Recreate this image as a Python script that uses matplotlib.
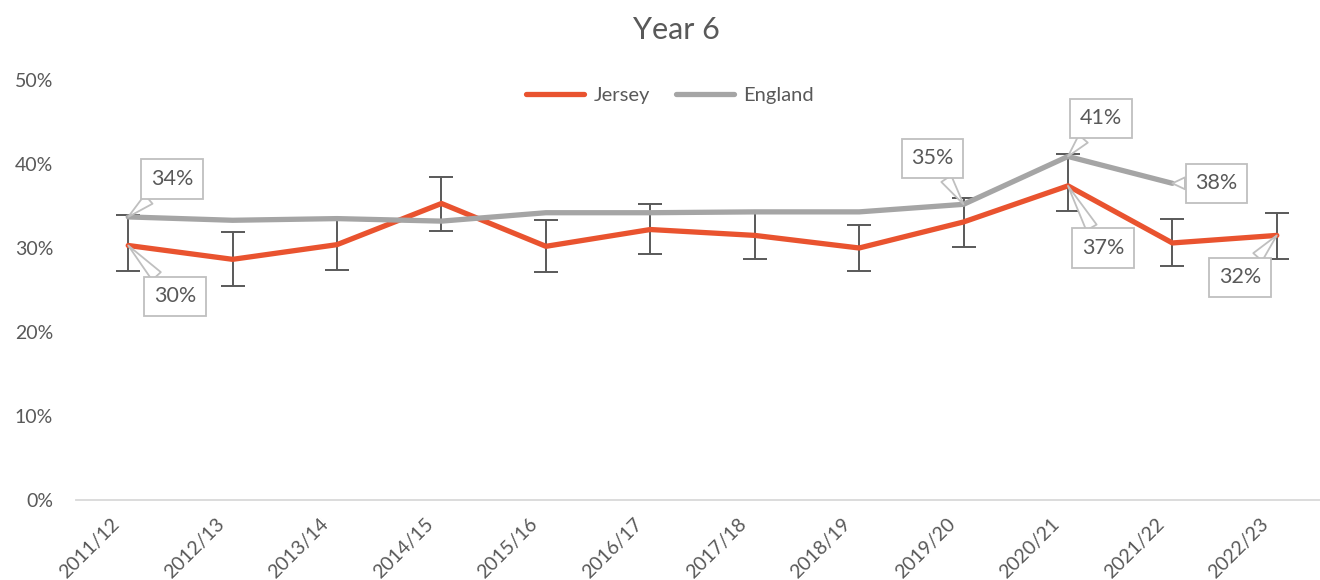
import numpy as np
import matplotlib
matplotlib.use("Agg")
import matplotlib.pyplot as plt
import matplotlib.transforms as mtransforms
from matplotlib.ticker import PercentFormatter

categories = ["2011/12", "2012/13", "2013/14", "2014/15", "2015/16", "2016/17",
              "2017/18", "2018/19", "2019/20", "2020/21", "2021/22", "2022/23"]
jersey = [30.3, 28.65, 30.4, 35.3, 30.2, 32.2, 31.5, 30.0, 33.1, 37.4, 30.6, 31.5]
jersey_low = [27.3, 25.5, 27.4, 32.0, 27.2, 29.3, 28.7, 27.3, 30.1, 34.4, 27.8, 28.65]
jersey_high = [33.9, 31.9, 33.6, 38.5, 33.3, 35.2, 34.2, 32.7, 36.0, 41.2, 33.4, 34.2]
england = [33.7, 33.3, 33.5, 33.2, 34.2, 34.2, 34.3, 34.3, 35.2, 40.9, 37.7, np.nan]

jersey_labelled = [0, 9, 11]
england_labelled = [0, 8, 9, 10]
# label offsets in pixels (layout only)
jersey_offsets = {0: (47, -51), 9: (35, -62), 11: (-37, -42)}
england_offsets = {0: (44, 38), 8: (-31, 46), 9: (33, 38), 10: (44, 0)}

plt.rcParams['font.family'] = ['Lato', 'DejaVu Sans']
TXT = '#595959'
ORANGE = '#E9532F'
GREY = '#A5A5A5'

W, H = 1320, 580
fig = plt.figure(figsize=(W / 100, H / 100), dpi=100)
left_px, right_px = 76, 1329
bottom_px, top_px = 500, 80
ax = fig.add_axes([left_px / W, (H - bottom_px) / H, (right_px - left_px) / W, (bottom_px - top_px) / H])

x = np.arange(len(categories))
jv = np.array(jersey)
yerr = np.array([jv - np.array(jersey_low), np.array(jersey_high) - jv])
ax.errorbar(x, jv, yerr=yerr, fmt='none', ecolor='#595959', elinewidth=1.4,
            capsize=8.5, capthick=1.4, zorder=1)
ax.plot(x, jersey, color=ORANGE, lw=3.8, label='Jersey', zorder=3, solid_capstyle='round', solid_joinstyle='round')
ax.plot(x, england, color=GREY, lw=3.8, label='England', zorder=4, solid_capstyle='round', solid_joinstyle='round')

ax.set_xlim(-0.5, len(categories) - 0.5)
ax.set_ylim(0, 50)
ax.set_yticks([0, 10, 20, 30, 40, 50])
ax.yaxis.set_major_formatter(PercentFormatter(decimals=0))
ax.set_xticks(x)
ax.set_xticklabels(categories, rotation=45, ha='right', va='center', rotation_mode='anchor')
ax.tick_params(axis='both', length=0, labelsize=14, labelcolor=TXT)
ax.tick_params(axis='y', pad=16.5)
ax.tick_params(axis='x', pad=15)
shift = mtransforms.ScaledTranslation(-8 / 72, 0, fig.dpi_scale_trans)
for lab in ax.get_xticklabels():
    lab.set_transform(lab.get_transform() + shift)
for s in ['top', 'right', 'left']:
    ax.spines[s].set_visible(False)
ax.spines['bottom'].set_color('#D9D9D9')
ax.spines['bottom'].set_linewidth(1.3)


def fmt(v):
    return f"{int(np.floor(v + 0.5))}%"


def label(i, v, off):
    ax.annotate(fmt(v), xy=(i, v), xytext=off, textcoords='offset pixels',
                ha='center', va='center', fontsize=15.5, color=TXT, zorder=6,
                bbox=dict(boxstyle='square,pad=0.45', fc='white', ec='#BFBFBF', lw=1.3),
                arrowprops=dict(arrowstyle='wedge,tail_width=0.55,shrink_factor=0.5',
                                fc='white', ec='#BFBFBF', lw=1.3, shrinkA=0, shrinkB=0))


for i in jersey_labelled:
    label(i, jersey[i], jersey_offsets[i])
for i in england_labelled:
    label(i, england[i], england_offsets[i])

leg = fig.legend(loc='center', bbox_to_anchor=(670 / W, (H - 95) / H), ncol=2, frameon=False,
                 fontsize=14.5, handlelength=2.9, handletextpad=0.45, columnspacing=1.3, labelcolor=TXT)

fig.text(676 / W, (H - 30) / H, 'Year 6', ha='center', va='center', fontsize=22, color=TXT)

fig.savefig('out.png', dpi=100)
